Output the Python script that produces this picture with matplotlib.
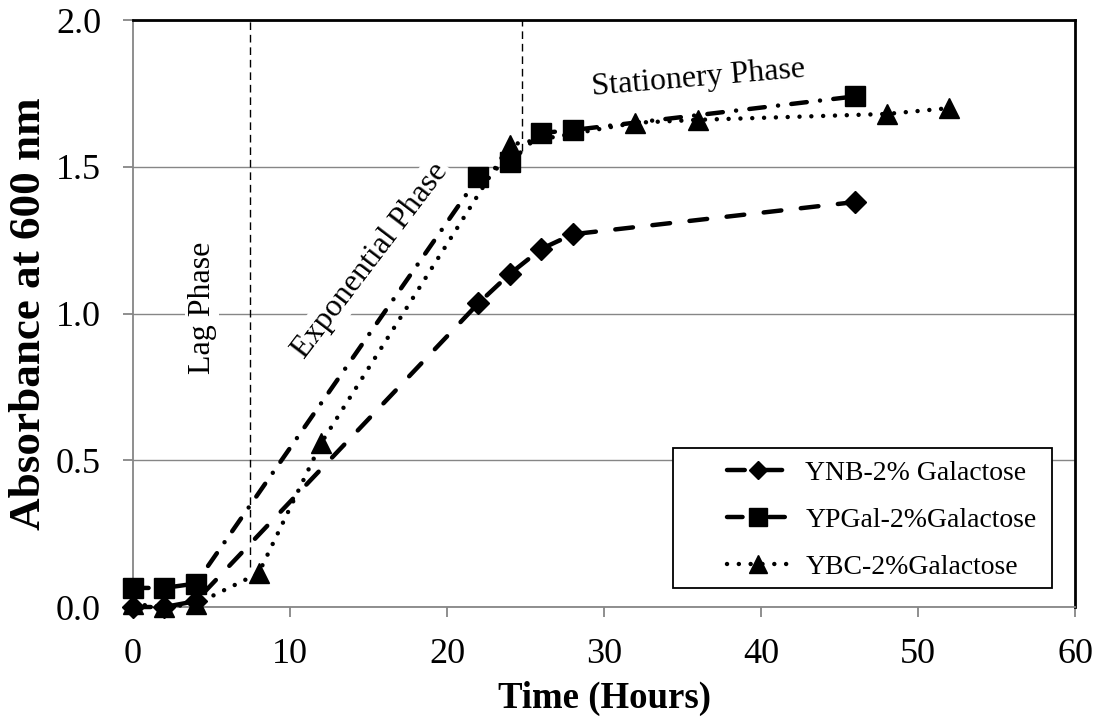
import matplotlib
matplotlib.use("Agg")
import matplotlib.pyplot as plt
from matplotlib.patches import Rectangle

plt.rcParams["font.family"] = ["Liberation Serif", "DejaVu Serif"]

# ---- OD600 readings per medium ----
ynb_hours = [0, 2, 4, 22, 24, 26, 28, 46]
ynb_abs = [0.00, 0.00, 0.02, 1.035, 1.135, 1.22, 1.27, 1.38]

ypgal_hours = [0, 2, 4, 22, 24, 26, 28, 46]
ypgal_abs = [0.065, 0.065, 0.08, 1.465, 1.515, 1.615, 1.625, 1.74]

ybc_hours = [0, 2, 4, 8, 12, 24, 32, 36, 48, 52]
ybc_abs = [0.01, 0.00, 0.01, 0.115, 0.56, 1.575, 1.65, 1.66, 1.68, 1.70]

# phase boundaries (hours) and where the marker lines stop
lag_end = 7.45
exp_end = 24.8
lag_line_bottom = 0.135
exp_line_bottom = 1.555

GRID = "#868686"

fig = plt.figure(figsize=(11.01, 7.21), dpi=100)
ax = fig.add_axes([0.1208, 0.1581, 0.8556, 0.8141])

lw = 3.2
ax.plot(ynb_hours, ynb_abs, color="black", lw=lw, dashes=(4, 4.4),
        dash_capstyle="round", marker="D", ms=11, clip_on=False, zorder=4,
        label="YNB-2% Galactose")
ax.plot(ypgal_hours, ypgal_abs, color="black", lw=lw, dashes=(3.5, 3, 0.01, 3),
        dash_capstyle="round", marker="s", ms=15, clip_on=False, zorder=4,
        label="YPGal-2%Galactose")
ax.plot(ybc_hours, ybc_abs, color="black", lw=lw, dashes=(0.01, 2.65),
        dash_capstyle="round", marker="^", ms=15, clip_on=False, zorder=4,
        label="YBC-2%Galactose")

# phase boundary markers
ax.plot([lag_end, lag_end], [lag_line_bottom, 2.0], color="black", lw=1,
        dashes=(5.5, 3.5), zorder=2.5)
ax.plot([exp_end, exp_end], [exp_line_bottom, 2.0], color="black", lw=1,
        dashes=(5.5, 3.5), zorder=2.5)

box = dict(facecolor="white", edgecolor="none", pad=2)
ax.text(4.4, 1.02, "Lag Phase", rotation=90, fontsize=23, ha="center",
        va="center", bbox=box, zorder=2.6)
ax.text(15.1, 1.18, "Exponential Phase", rotation=52.7, fontsize=23,
        ha="center", va="center", bbox=box, zorder=2.6,
        rotation_mode="anchor")
ax.text(36.0, 1.80, "Stationery Phase", rotation=4.9, fontsize=23,
        ha="center", va="center", bbox=box, zorder=2.6,
        rotation_mode="anchor")

ax.set_xlim(0, 60)
ax.set_ylim(0, 2.0)
ax.set_xticks(range(0, 61, 10))
ax.set_yticks([0.0, 0.5, 1.0, 1.5, 2.0])
ax.set_yticklabels(["0.0", "0.5", "1.0", "1.5", "2.0"])
ax.yaxis.grid(True, color=GRID, lw=1)
ax.set_axisbelow(True)

ax.spines["left"].set_color(GRID)
ax.spines["bottom"].set_color(GRID)
ax.spines["left"].set_linewidth(1.3)
ax.spines["bottom"].set_linewidth(1.3)
ax.spines["top"].set_linewidth(2)
ax.spines["right"].set_linewidth(2)
ax.tick_params(axis="x", direction="out", length=7, width=1.3, color=GRID,
               labelsize=26, pad=15.5)
ax.tick_params(axis="y", direction="out", length=7, width=1.3, color=GRID,
               labelsize=26, pad=16)

ax.set_xlabel("Time (Hours)", fontsize=26.5, fontweight="bold", labelpad=7)
ax.set_ylabel("Absorbance at 600 nm", fontsize=32.5, fontweight="bold",
              labelpad=5)

# legend entries without their own frame; the box is drawn separately
leg = ax.legend(loc="center left", bbox_to_anchor=(0.6157, 0.1482),
                fontsize=20, numpoints=1, handlelength=2.23,
                handletextpad=0.6, labelspacing=0.78, borderpad=0,
                frameon=False)
for h in leg.legend_handles:
    h.set_markersize(h.get_markersize() * 0.85)
leg.set_zorder(6)
ax.add_patch(Rectangle((0.5732, 0.0324), 0.9756 - 0.5732, 0.2709 - 0.0324,
                       transform=ax.transAxes, facecolor="white",
                       edgecolor="black", lw=1.3, zorder=5))

fig.savefig("out.png", dpi=100)
